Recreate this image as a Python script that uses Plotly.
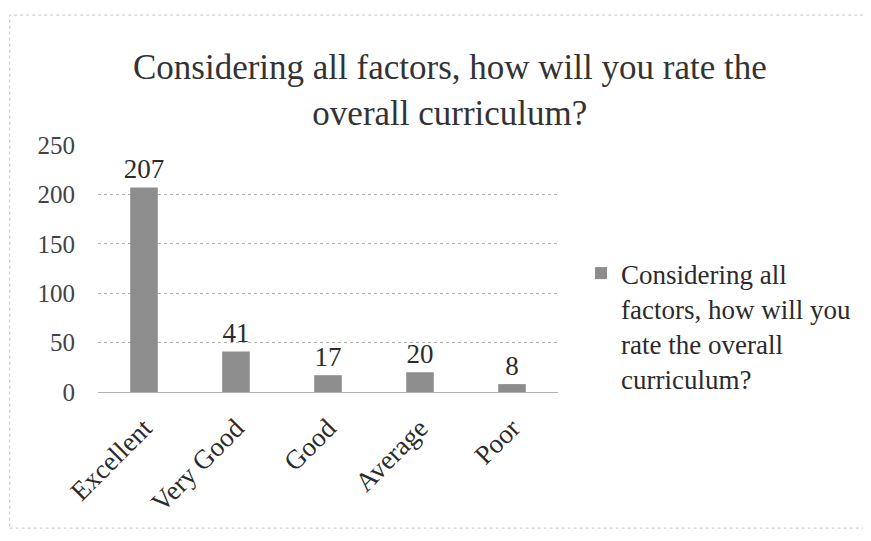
import plotly.graph_objects as go

# Data
categories = ["Excellent", "Very Good", "Good", "Average", "Poor"]
counts = [207, 41, 17, 20, 8]
series_name = "Considering all<br>factors, how will you<br>rate the overall<br>curriculum?"
chart_title = "Considering all factors, how will you rate the<br>overall curriculum?"
y_ticks = [0, 50, 100, 150, 200, 250]

SERIF = "Liberation Serif, Times New Roman, serif"
TEXT = "#2b2b2b"
BAR = "#8d8d8d"

# page body adds an 8px offset, so the figure is drawn 8px smaller
W, H = 863, 533

fig = go.Figure()
fig.add_trace(go.Bar(
    x=categories, y=counts, name=series_name,
    marker=dict(color=BAR, line=dict(width=0)),
    text=counts, textposition="outside", cliponaxis=False, constraintext="none",
    textfont=dict(family=SERIF, size=27, color=TEXT),
    showlegend=True,
))

fig.update_layout(
    width=W, height=H,
    paper_bgcolor="white", plot_bgcolor="white",
    margin=dict(l=90, r=313, t=137, b=149, autoexpand=False),
    bargap=0.7,
    font=dict(family=SERIF, color=TEXT),
    title=dict(text=chart_title, x=0.512, xanchor="center", y=0.866, yanchor="middle",
               font=dict(family=SERIF, size=35, color="#333333")),
    legend=dict(x=1.05, xanchor="left", y=0.267, yanchor="middle", valign="top",
                font=dict(family=SERIF, size=27, color=TEXT),
                itemwidth=30, tracegroupgap=0),
    showlegend=True,
)
fig.update_xaxes(
    tickangle=-45, tickfont=dict(family=SERIF, size=27, color=TEXT),
    showline=False, showgrid=False, ticks="", automargin=False,
    ticklabelstandoff=14,
)
fig.update_yaxes(
    range=[0, 250], tickvals=y_ticks,
    tickfont=dict(family=SERIF, size=25, color="#444444"),
    showgrid=True, gridcolor="#b0b0b0", griddash="dot", gridwidth=1,
    zeroline=True, zerolinecolor="#b0b0b0", zerolinewidth=1,
    showline=False, ticks="", ticklabelstandoff=22, automargin=False,
)

# outer chart border, as in the scanned original
fig.add_shape(type="rect", xref="paper", yref="paper",
              x0=-0.192, x1=1.665, y0=-0.551, y1=1.526,
              line=dict(color="#c4c4c4", width=1, dash="dot"), layer="below")

fig.write_html("out.html")
